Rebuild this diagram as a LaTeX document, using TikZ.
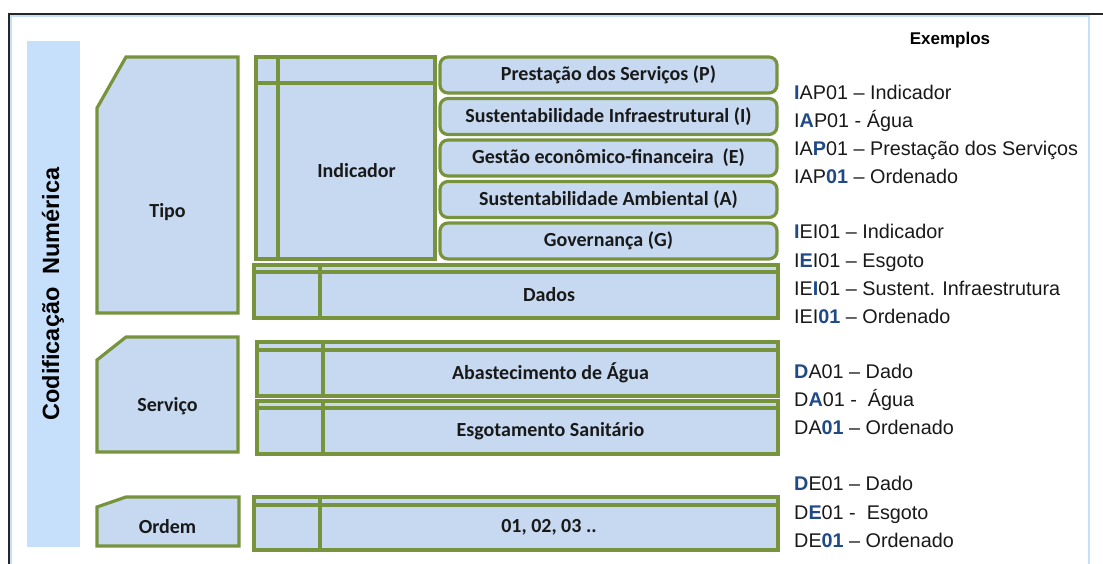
\documentclass[tikz,border=0pt]{standalone}
\usepackage{fontspec}
\setmainfont{Carlito}
\newfontfamily\arial{Liberation Sans}
\usetikzlibrary{positioning, calc, chains}

\definecolor{caixa}{HTML}{C6D9F1}
\definecolor{borda}{HTML}{77933C}
\definecolor{faixa}{HTML}{C6E0FB}
\definecolor{letra}{HTML}{1F4A86}
\newcommand{\az}[1]{\textbf{\color{letra}#1}}

\tikzset{
  bloco/.style={draw=borda, fill=caixa, line width=3.2pt},
  rotulo/.style={font=\fontsize{20}{23}\selectfont\bfseries, text=black!90},
  tema/.style={bloco, rotulo, rounded corners=8pt, minimum width=337pt, minimum height=36pt, inner sep=0pt, outer sep=0pt},
  grade/.style 2 args={bloco, inner sep=0pt, outer sep=0pt, path picture={
      \draw[borda, line width=3.2pt]
        ([xshift=#1]path picture bounding box.north west) -- ([xshift=#1]path picture bounding box.south west)
        ([yshift=-#2]path picture bounding box.north west) -- ([yshift=-#2]path picture bounding box.north east);}},
  exemplo/.style={font=\arial\fontsize{19.8}{22}\selectfont, text=black!90, anchor=base west, inner sep=0pt}
}

\begin{document}
\begin{tikzpicture}[x=1pt, y=-1pt, start chain=1 going below, node distance=5.5pt]
	\useasboundingbox (0,0) rectangle (1103,564);
	% moldura
	\draw[faixa, line width=2pt] (11,16) rectangle (1089,570);
	\draw[black!85, line width=2.2pt] (9,564) -- (9,14) -- (1103,14);

	% faixa lateral
	\fill[faixa] (27,41) rectangle (80,547);
	\node[rotate=90, font=\arial\bfseries\fontsize{23.5}{26}\selectfont] (cod) at (53,294) {Codificação\ \ Numérica};

	% niveis
	\draw[bloco] (126,57) -- (238,57) -- (238,313) -- (97,313) -- (97,108) -- cycle;
	\node[rotulo] (tipo) at (167.5,212) {Tipo};
	\draw[bloco] (126,337) -- (238,337) -- (238,452) -- (97,452) -- (97,360) -- cycle;
	\node[rotulo] (serv) at (167.5,406) {Serviço};
	\draw[bloco] (126,497) -- (239,497) -- (239,546) -- (97,546) -- (97,507) -- cycle;
	\node[rotulo] (ordem) at (167.5,527) {Ordem};

	% indicador e temas
	\node[grade={22pt}{26pt}, minimum width=179pt, minimum height=202pt] (ind) at (345.5,158) {};
	\node[rotulo] (indt) at ($(ind.south east)!.5!([shift={(22pt,-26pt)}]ind.north west)$) {Indicador};
	\node[tema, on chain=1] (p) at (608.5,75) {Prestação dos Serviços (P)};
	\node[tema, on chain=1] (i) {Sustentabilidade Infraestrutural (I)};
	\node[tema, on chain=1] (e) {Gestão econômico-financeira~ (E)};
	\node[tema, on chain=1] (a) {Sustentabilidade Ambiental (A)};
	\node[tema, on chain=1] (g) {Governança (G)};

	% dados e servicos
	\node[grade={66pt}{7pt}, minimum width=524pt, minimum height=53pt] (dad) at (516,291.5) {};
	\node[rotulo] (dadt) at ($(dad.south east)!.5!([shift={(66pt,-7pt)}]dad.north west)$) {Dados};
	\node[grade={66pt}{8pt}, minimum width=521pt, minimum height=54pt] (agua) at (517.5,369) {};
	\node[rotulo] (aguat) at ($(agua.south east)!.5!([shift={(66pt,-8pt)}]agua.north west)$) {Abastecimento de Água};
	\node[grade={66pt}{7pt}, minimum width=521pt, minimum height=53pt] (esg) at (517.5,427.5) {};
	\node[rotulo] (esgt) at ($(esg.south east)!.5!([shift={(66pt,-7pt)}]esg.north west)$) {Esgotamento Sanitário};
	\node[grade={66pt}{8pt}, minimum width=524pt, minimum height=53pt] (ord) at (516,523.5) {};
	\node[rotulo] (ordt) at ($(ord.south east)!.5!([shift={(66pt,-8pt)}]ord.north west)$) {01, 02, 03 ..};

	% exemplos
	\node[font=\arial\bfseries\fontsize{17}{20}\selectfont] (exe) at (950,40) {Exemplos};
	\node[exemplo] (x1) at (794,100) {\az{I}AP01 – Indicador};
	\node[exemplo] (x2) at (794,128) {I\az{A}P01 - Água};
	\node[exemplo] (x3) at (794,156) {IA\az{P}01 – Prestação dos Serviços};
	\node[exemplo] (x4) at (794,184) {IAP\az{01} – Ordenado};
	\node[exemplo] (x5) at (794,239) {\az{I}EI01 – Indicador};
	\node[exemplo] (x6) at (794,267) {I\az{E}I01 – Esgoto};
	\node[exemplo] (x7) at (794,295) {IE\az{I}01 – Sustent. Infraestrutura};
	\node[exemplo] (x8) at (794,323) {IEI\az{01} – Ordenado};
	\node[exemplo] (x9) at (794,378) {\az{D}A01 – Dado};
	\node[exemplo] (x10) at (794,406) {D\az{A}01 -\ \ Água};
	\node[exemplo] (x11) at (794,434) {DA\az{01} – Ordenado};
	\node[exemplo] (x12) at (794,490) {\az{D}E01 – Dado};
	\node[exemplo] (x13) at (794,519) {D\az{E}01 -\ \ Esgoto};
	\node[exemplo] (x14) at (794,547) {DE\az{01} – Ordenado};
\end{tikzpicture}
\end{document}
